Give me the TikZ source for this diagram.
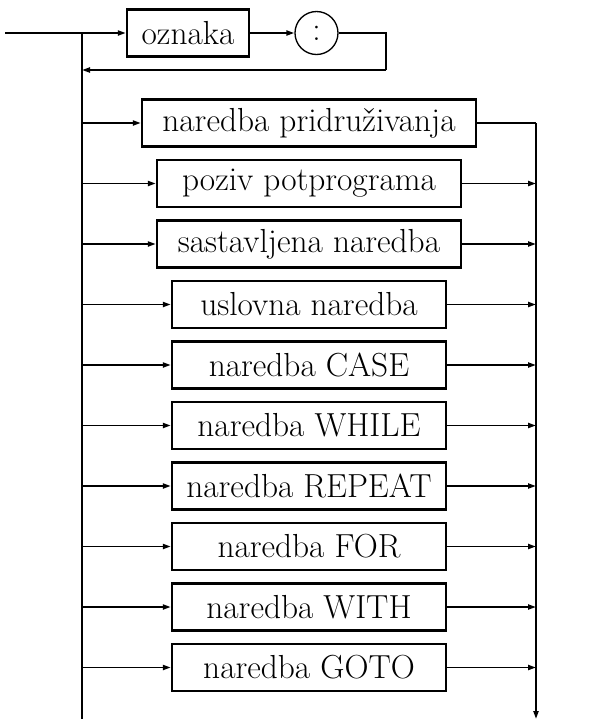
\documentclass[tikz,border=0pt]{standalone}
\usetikzlibrary{arrows.meta}
\begin{document}
\begin{tikzpicture}[x=0.75pt,y=-0.75pt,
  box/.style={draw,line width=1.8pt,minimum height=35.25pt,inner sep=0pt,
              font=\fontsize{25}{30}\selectfont},
  wide/.style={box,minimum width=250.5pt},
  mid/.style={box,minimum width=228pt},
  narrow/.style={box,minimum width=205.5pt},
  term/.style={draw,circle,line width=1pt,minimum size=32.25pt,inner sep=0pt,
               font=\fontsize{25}{30}\selectfont},
  conn/.style={line width=1.4pt,line join=miter},
  arr/.style={conn,-{Triangle[length=6pt,width=3.8pt]}}]
\useasboundingbox (0,0) rectangle (606,719);

% optional label "oznaka :"
\node[box,minimum width=91.5pt] (oz) at (188,33) {oznaka};
\node[term] (colon) at (316.5,33) {:};

% rails and loop corners
\coordinate (in)    at (5,33);
\coordinate (split) at (82,33);
\coordinate (lbot)  at (82,719);
\coordinate (loopA) at (386,33);
\coordinate (loopB) at (386,70);
\coordinate (rtop)  at (536,123);
\coordinate (rbot)  at (536,719);

% statement alternatives
\node[wide]   (r1)  at (309,123)   {naredba pridruživanja};
\node[mid]    (r2)  at (309,183.5) {poziv potprograma};
\node[mid]    (r3)  at (309,244)   {sastavljena naredba};
\node[narrow] (r4)  at (309,304.5) {uslovna naredba};
\node[narrow] (r5)  at (309,365)   {naredba CASE};
\node[narrow] (r6)  at (309,425.5) {naredba WHILE};
\node[narrow] (r7)  at (309,486)   {naredba REPEAT};
\node[narrow] (r8)  at (309,546.5) {naredba FOR};
\node[narrow] (r9)  at (309,607)   {naredba WITH};
\node[narrow] (r10) at (309,667.5) {naredba GOTO};

% entry, label path and loop back
\draw[conn] (in) -- (split) -- (lbot);
\draw[arr] (split) -- (oz.west);
\draw[arr] (oz.east) -- (colon.west);
\draw[conn] (colon.east) -- (loopA) -- (loopB);
\draw[arr] (loopB) -- (split |- loopB);

% first alternative joins the right rail
\draw[arr] (split |- r1.west) -- (r1.west);
\draw[conn] (r1.east) -- (rtop);
\draw[arr] (rtop) -- (rbot);

% remaining alternatives
\foreach \i in {2,...,10}{
  \draw[arr] (split |- r\i.west) -- (r\i.west);
  \draw[arr] (r\i.east) -- (rtop |- r\i.east);
}
\end{tikzpicture}
\end{document}
